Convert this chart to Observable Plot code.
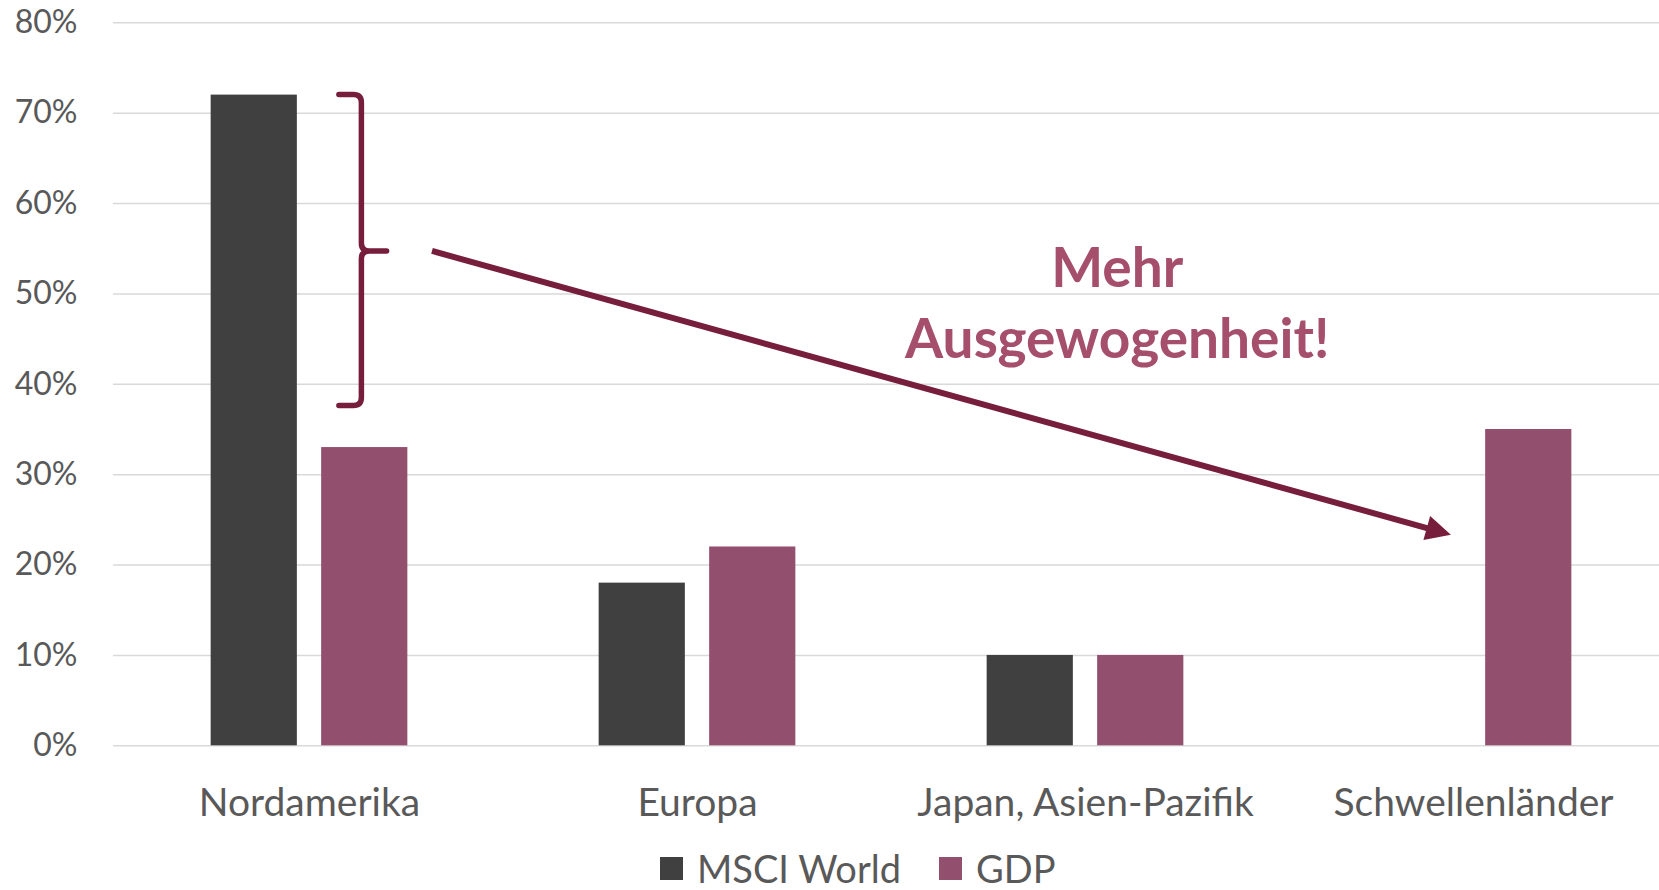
<!DOCTYPE html>
<html><head><meta charset="utf-8">
<script src="https://cdn.jsdelivr.net/npm/d3@7"></script>
<script src="https://cdn.jsdelivr.net/npm/@observablehq/plot@0.6"></script>
<style>
html,body{margin:0;padding:0;background:#fff;overflow:hidden;}
#chart svg{display:block;}
.legend{display:flex;align-items:center;height:40px;padding-top:3px;padding-left:660px;font-family:Lato,sans-serif;font-size:38px;color:#595959;line-height:38px;}
.item{display:flex;align-items:center;margin-right:38px;}
.sw{width:23px;height:23px;display:inline-block;margin-right:14px;}
</style></head><body>
<div id="chart"></div>
<div class="legend" id="legend"></div>
<script>
const categories = ["Nordamerika", "Europa", "Japan, Asien-Pazifik", "Schwellenländer"];
const series = ["MSCI World", "GDP"];
const msciWorld = [0.72, 0.18, 0.10, 0];
const gdp = [0.33, 0.22, 0.10, 0.35];
const yTicks = [0, 0.1, 0.2, 0.3, 0.4, 0.5, 0.6, 0.7, 0.8];
const seriesColors = ["#404040", "#934F6E"];
const annotationLines = ["Mehr", "Ausgewogenheit!"];

const rows = categories.flatMap((c, i) => [
  {category: c, series: series[0], value: msciWorld[i]},
  {category: c, series: series[1], value: gdp[i]}
]);

const W = 1659, H = 845;
const chart = Plot.plot({
  width: W, height: H,
  marginLeft: 113, marginRight: 0, marginTop: 22.3, marginBottom: 99.7,
  style: {fontFamily: "Lato, sans-serif", background: "#fff", overflow: "visible"},
  x: {type: "band", domain: categories, range: [113.1, 1668.3], padding: 0, label: null},
  y: {domain: [0, 0.8], label: null},
  color: {domain: series, range: seriesColors},
  marks: [
    Plot.gridY(yTicks, {stroke: "#d9d9d9", strokeOpacity: 1, strokeWidth: 1.6}),
    Plot.barY(rows.filter(d => d.series === series[0]), {x: "category", y: "value", fill: "series", insetLeft: 95.65, insetRight: 206.15}),
    Plot.barY(rows.filter(d => d.series === series[1]), {x: "category", y: "value", fill: "series", insetLeft: 206.15, insetRight: 95.65}),
    Plot.axisY({ticks: yTicks, tickFormat: d3.format(".0%"), tickSize: 0, tickPadding: 36, fontSize: 32, color: "#595959", label: null}),
    Plot.axisX({tickSize: 0, tickPadding: 42, fontSize: 39, color: "#595959", label: null})
  ]
});
document.getElementById("chart").appendChild(chart);

// Annotations positioned through the plot's own scales
const xs = chart.scale("x"), ys = chart.scale("y");
const bw = xs.bandwidth;
const bx = (cat, f) => xs.apply(cat) + f * bw;
const yy = v => ys.apply(v);
const svg = d3.select(chart);
const dark = "#761E3C";

// Bracket
const xl = bx(categories[0], 0.577), xv = bx(categories[0], 0.635), xt = bx(categories[0], 0.700);
const yT = yy(0.72), yM = yy(0.547), yB = yy(0.376), r = 8;
const p = d3.path();
p.moveTo(xl, yT); p.lineTo(xv - r, yT); p.quadraticCurveTo(xv, yT, xv, yT + r);
p.lineTo(xv, yM - r); p.quadraticCurveTo(xv, yM, xv + r, yM); p.lineTo(xt, yM);
p.moveTo(xv + r, yM); p.quadraticCurveTo(xv, yM, xv, yM + r);
p.lineTo(xv, yB - r); p.quadraticCurveTo(xv, yB, xv - r, yB); p.lineTo(xl, yB);
svg.append("path").attr("d", p.toString()).attr("fill", "none").attr("stroke", dark)
  .attr("stroke-width", 5.5).attr("stroke-linecap", "round").attr("stroke-linejoin", "round");

// Arrow
const ax0 = bx(categories[0], 0.817), ay0 = yy(0.547);
const ax1 = bx(categories[3], 0.443), ay1 = yy(0.233);
const ang = Math.atan2(ay1 - ay0, ax1 - ax0);
const hl = 25, hw = 12.5;
const bxp = ax1 - hl * Math.cos(ang), byp = ay1 - hl * Math.sin(ang);
svg.append("line").attr("x1", ax0).attr("y1", ay0).attr("x2", bxp + 2 * Math.cos(ang)).attr("y2", byp + 2 * Math.sin(ang))
  .attr("stroke", dark).attr("stroke-width", 6);
svg.append("path").attr("fill", dark).attr("d",
  `M${ax1},${ay1}L${bxp - hw * Math.sin(ang)},${byp + hw * Math.cos(ang)}L${bxp + hw * Math.sin(ang)},${byp - hw * Math.cos(ang)}Z`);

// Text
const tx = bx(categories[2], 0.583);
[0.507, 0.429].forEach((v, i) => {
  svg.append("text").attr("x", tx).attr("y", yy(v)).attr("text-anchor", "middle")
    .attr("font-family", "Lato, sans-serif").attr("font-weight", "bold").attr("font-size", 55)
    .attr("fill", "#A64F6C").text(annotationLines[i]);
});

// Legend
const leg = document.getElementById("legend");
series.forEach((s, i) => {
  const it = document.createElement("div"); it.className = "item";
  const sw = document.createElement("span"); sw.className = "sw"; sw.style.background = seriesColors[i];
  const t = document.createElement("span"); t.textContent = s;
  it.appendChild(sw); it.appendChild(t); leg.appendChild(it);
});
</script>
</body></html>
